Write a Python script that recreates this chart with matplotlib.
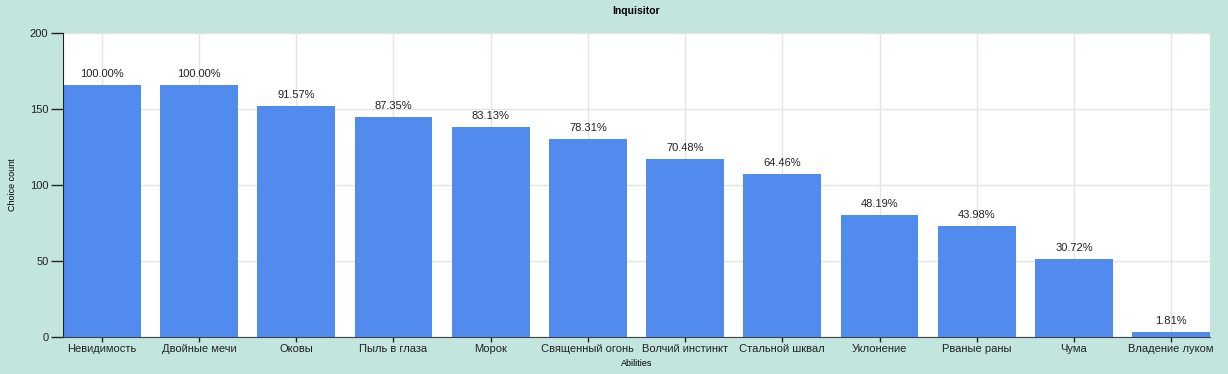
import matplotlib.pyplot as plt

plt.rcParams['font.family'] = ['Liberation Sans', 'DejaVu Sans']

abilities = ['Невидимость', 'Двойные мечи', 'Оковы', 'Пыль в глаза', 'Морок',
             'Священный огонь', 'Волчий инстинкт', 'Стальной шквал', 'Уклонение',
             'Рваные раны', 'Чума', 'Владение луком']
counts = [166, 166, 152, 145, 138, 130, 117, 107, 80, 73, 51, 3]
percents = ['100.00%', '100.00%', '91.57%', '87.35%', '83.13%', '78.31%',
            '70.48%', '64.46%', '48.19%', '43.98%', '30.72%', '1.81%']

bg = '#c2e6de'
fig = plt.figure(figsize=(12.28, 3.74), dpi=100, facecolor=bg)
ax = fig.add_axes([63 / 1228, 37 / 374, 1147 / 1228, 304 / 374])
ax.set_facecolor('white')

x = range(len(abilities))
bars = ax.bar(x, counts, width=0.8, color='#528bee', zorder=2)
for b, p in zip(bars, percents):
    ax.text(b.get_x() + b.get_width() / 2, b.get_height() + 4, p,
            ha='center', va='bottom', fontsize=8, color='#222222')

ax.set_xlim(-0.4, len(abilities) - 0.6)
ax.set_ylim(0, 200)
ax.set_yticks([0, 50, 100, 150, 200])
ax.set_xticks(list(x))
ax.set_xticklabels(abilities)
ax.tick_params(axis='both', labelsize=8, colors='#222222', width=1)
ax.tick_params(axis='x', length=3.5, pad=1.5)
ax.tick_params(axis='y', length=9, pad=1.5)
ax.grid(True, color='#e4e4e4', linewidth=1, zorder=0)

for s in ['top', 'right']:
    ax.spines[s].set_visible(False)
ax.spines['left'].set_color('#222222')
ax.spines['bottom'].set_color('#444444')

ax.set_title('Inquisitor', fontsize=7.5, fontweight='bold', pad=14)
ax.set_xlabel('Abilities', fontsize=6.5, labelpad=4)
ax.set_ylabel('Choice count', fontsize=6.5, labelpad=9)

fig.savefig('out.png', dpi=100, facecolor=bg)
